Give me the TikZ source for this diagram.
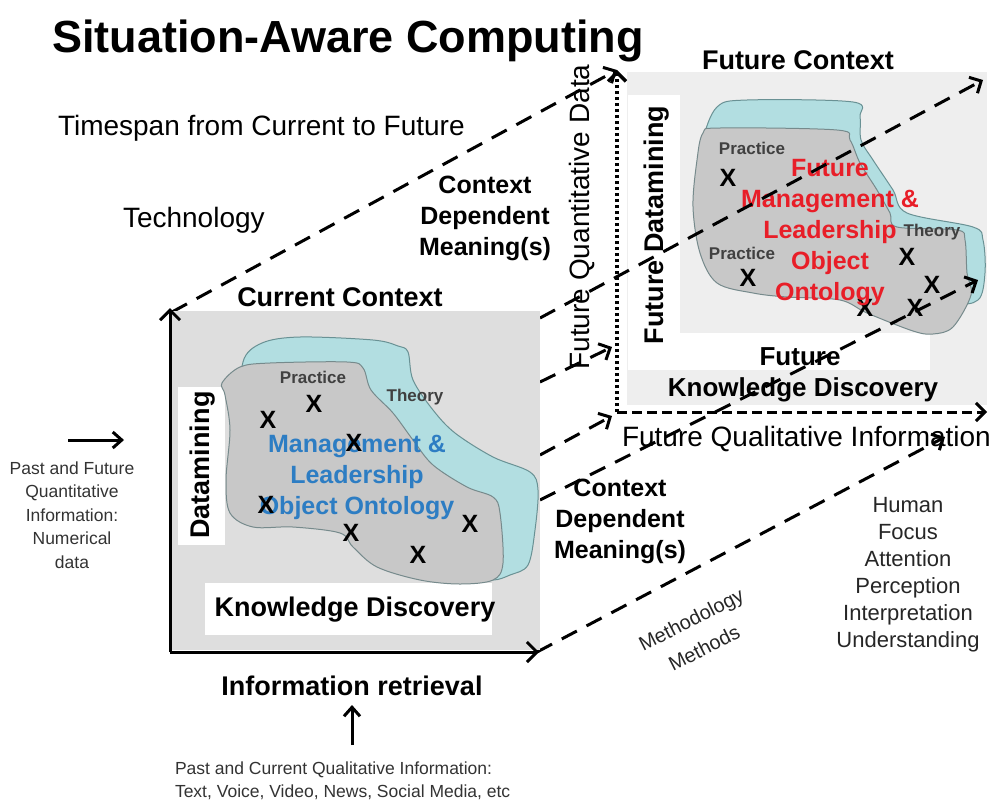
\documentclass[tikz,border=0pt]{standalone}
\usepackage{fontspec}
\setmainfont{Liberation Sans}
\usetikzlibrary{arrows.meta}
\newcommand{\fs}[2]{\fontsize{#1}{#2}\selectfont}
\definecolor{curgray}{RGB}{222,222,222}
\definecolor{futgray}{RGB}{238,238,238}
\definecolor{theoryfill}{RGB}{178,222,225}
\definecolor{theoryline}{RGB}{105,145,148}
\definecolor{practicefill}{RGB}{200,200,200}
\definecolor{practiceline}{RGB}{118,138,140}
\definecolor{ontoblue}{RGB}{45,125,195}
\definecolor{ontored}{RGB}{232,30,40}
\begin{document}
\begin{tikzpicture}[x=1pt,y=-1pt,
  every node/.style={inner sep=0pt,outer sep=0pt},
  plain/.style={font=\fs{28}{34}},
  headb/.style={font=\fs{27}{31}\bfseries},
  ctxb/.style={font=\fs{25}{31}\bfseries,align=center},
  ontob/.style={font=\fs{25}{31}\bfseries,align=center},
  note/.style={font=\fs{17.5}{23.5},align=center,text=black!80},
  aspect/.style={font=\fs{22}{27},align=center,text=black!85},
  tag/.style={font=\fs{17}{20}\bfseries,text=black!75},
  xmark/.style={font=\fs{25}{25}\bfseries},
  theory/.style={fill=theoryfill,draw=theoryline,line width=1pt},
  practice/.style={fill=practicefill,draw=practiceline,line width=1pt},
  persp/.style={line width=3pt,dash pattern=on 17pt off 11pt,
    -{Straight Barb[length=9pt,width=18pt]}},
  axisline/.style={line width=3pt,-{Straight Barb[length=10pt,width=20pt]}},
  flowarrow/.style={line width=3pt,-{Straight Barb[length=9pt,width=16pt]}}]
\useasboundingbox (0,0) rectangle (1006,801);

% ---------- future context panel ----------
\fill[futgray] (627,72) rectangle (987,405);
\fill[white] (628,95) rectangle (680,370);
\fill[white] (628,333) rectangle (930,370);
\draw[theory] plot[smooth cycle,tension=0.55] coordinates {
  (703,140) (717,107) (747,100) (853,102) (860,117) (861,140) (873,160)
  (893,190) (907,213) (973,227) (983,240) (985,273) (978,300) (950,300)
  (880,260) (760,210) (705,165)};
\draw[practice] plot[smooth cycle,tension=0.55] coordinates {
  (703,133) (720,128) (837,130) (850,140) (860,163) (877,190) (890,213)
  (897,227) (957,230) (965,240) (967,273) (971,295) (953,327) (933,334)
  (913,331) (867,313) (840,300) (787,297) (753,293) (717,283) (700,253)
  (693,207) (697,160)};
\node[tag] (fprac1) at (752,148) {Practice};
\node[tag] (fprac2) at (742,253) {Practice};
\node[tag] (ftheory) at (932,232) {Theory};
\foreach \n/\p in {fx1/{(728,178)},fx2/{(748,278)},fx3/{(907,257)},
                   fx4/{(932,285)},fx5/{(865,308)},fx6/{(915,308)}}
  \node[xmark] (\n) at \p {X};
\node[ontob,text=ontored] (fonto) at (830,233)
  {Future\\Management \&\\Leadership\\Object\\Ontology};
\node[headb] (fctx) at (798,60) {Future Context};
\node[headb,rotate=90] (fdm) at (657,225) {Future Datamining};
\node[headb,font=\fs{26}{31}\bfseries] (ffut) at (800,357) {Future};
\node[headb,font=\fs{26}{31}\bfseries] (fkd) at (803,390) {Knowledge Discovery};
\node[plain,rotate=90] (fquant) at (582,217) {Future Quantitative Data};
\node[plain,anchor=base west] (fqual) at (622,446) {Future Qualitative Information};

% ---------- anchor points of the perspective lines ----------
\coordinate (o) at (170,652);
\coordinate (ctl) at (172,312);
\coordinate (ctr) at (540,318);
\coordinate (cr1) at (540,382);
\coordinate (cr2) at (540,455);
\coordinate (cr3) at (540,500);
\coordinate (cbr) at (537,652);
\coordinate (fo) at (617,412);
\coordinate (ftop) at (617,70);
\coordinate (fright) at (987,412);
\coordinate (ftr) at (983,80);
\coordinate (fm1) at (612,347);
\coordinate (fm2) at (612,416);
\coordinate (fm3) at (978,280);
\coordinate (fbr) at (945,437);

% future axes
\draw[line width=3.5pt,dash pattern=on 3pt off 3pt,
      -{Straight Barb[length=9pt,width=18pt]}] (fo) -- (ftop);
\draw[line width=3pt,dash pattern=on 10pt off 5pt,
      -{Straight Barb[length=9pt,width=18pt]}] (fo) -- (fright);

% timespan lines from the current to the future context
\draw[persp] (ctl) -- (ftop);
\draw[persp] (ctr) -- (ftr);
\draw[persp] (cr1) -- (fm1);
\draw[persp] (cr2) -- (fm2);
\draw[persp] (cr3) -- (fm3);
\draw[persp] (cbr) -- (fbr);

% ---------- current context panel ----------
\fill[curgray] (172,311) rectangle (540,650);
\fill[white] (178,387) rectangle (225,545);
\fill[white] (205,583) rectangle (492,635);
\draw[theory] plot[smooth cycle,tension=0.55] coordinates {
  (243,362) (262,343) (300,337) (373,340) (398,346) (408,352) (413,380)
  (433,410) (455,433) (493,457) (530,472) (538,490) (535,530) (528,565)
  (510,575) (493,580) (470,575) (420,540) (300,480) (245,410)};
\draw[practice] plot[smooth cycle,tension=0.55] coordinates {
  (222,383) (240,367) (270,363) (347,362) (363,368) (371,390) (393,413)
  (413,440) (433,465) (467,487) (493,497) (500,513) (503,563) (493,580)
  (460,584) (420,580) (377,567) (353,547) (340,533) (293,527) (253,527)
  (230,513) (226,480) (230,430) (225,395)};
\node[tag] (cprac) at (313,377) {Practice};
\node[tag] (ctheory) at (415,397) {Theory};
\node[ontob,text=ontoblue] (conto) at (357,477)
  {Management \&\\Leadership\\Object Ontology};
\foreach \n/\p in {cx1/{(268,420)},cx2/{(314,404)},cx3/{(354,443)},
                   cx4/{(266,505)},cx5/{(351,533)},cx6/{(418,555)},cx7/{(470,524)}}
  \node[xmark] (\n) at \p {X};
\node[headb,rotate=90] (cdm) at (203,465) {Datamining};
\node[headb] (ckd) at (355,610) {Knowledge Discovery};
\node[headb,anchor=base] (cctx) at (340,306) {Current Context};
\coordinate (ctop) at (170,308);
\coordinate (cright) at (539,652);
\draw[axisline] (o) -- (ctop);
\draw[axisline] (o) -- (cright);
\node[headb] (ir) at (352,686) {Information retrieval};

% ---------- labels ----------
\node[font=\fs{45}{50}\bfseries,anchor=base west] (title) at (52,52)
  {Situation-Aware Computing};
\node[plain,anchor=base west] (span) at (58,135) {Timespan from Current to Future};
\node[plain,anchor=base west] (tech) at (123,227) {Technology};
\node[ctxb] (cdm1) at (485,218) {Context\\Dependent\\Meaning(s)};
\node[ctxb] (cdm2) at (620,521) {Context\\Dependent\\Meaning(s)};
\node[aspect] (human) at (908,575)
  {Human\\Focus\\Attention\\Perception\\Interpretation\\Understanding};
\node[font=\fs{20}{24},text=black!85,rotate=27] (meth1) at (692,621) {Methodology};
\node[font=\fs{20}{24},text=black!85,rotate=27] (meth2) at (704,648) {Methods};

% quantitative input on the left
\node[note] (quant) at (72,515)
  {Past and Future\\Quantitative\\Information:\\Numerical\\data};
\coordinate (qa) at (68,440);
\coordinate (qb) at (124,440);
\draw[flowarrow] (qa) -- (qb);

% qualitative input below
\node[note,align=left,anchor=west] (qual) at (175,781)
  {Past and Current Qualitative Information:\\Text, Voice, Video, News, Social Media, etc};
\coordinate (ua) at (352,745);
\draw[flowarrow] (ua) -- (ir.south |- 0,705);
\end{tikzpicture}
\end{document}
